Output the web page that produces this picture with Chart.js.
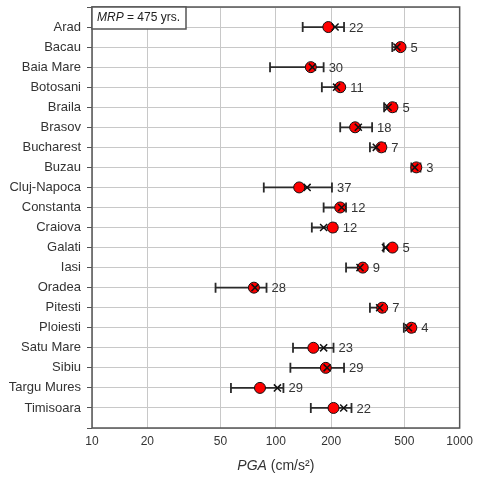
<!DOCTYPE html>
<html>
<head>
<meta charset="utf-8">
<script src="https://cdn.jsdelivr.net/npm/chart.js@4"></script>
<style>
  body { margin: 0; background: #fff; }
  #wrap { width: 479px; height: 480px; }
</style>
</head>
<body>
<div id="wrap"><canvas id="chart" width="479" height="480"></canvas></div>
<script>
const cities = ['Arad', 'Bacau', 'Baia Mare', 'Botosani', 'Braila', 'Brasov', 'Bucharest', 'Buzau',
    'Cluj-Napoca', 'Constanta', 'Craiova', 'Galati', 'Iasi', 'Oradea', 'Pitesti', 'Ploiesti',
    'Satu Mare', 'Sibiu', 'Targu Mures', 'Timisoara'];
// red circles
const medians = [193, 477, 155, 224, 431, 270, 375, 581, 134, 224, 204, 431, 297, 76, 379, 546, 160, 187, 82, 206];
// crosses
const means = [210, 456, 158, 214, 408, 281, 352, 570, 148, 228, 182, 395, 287, 77, 367, 527, 182, 190, 102, 234];
// error bar ends
const lows = [140, 430, 93, 178, 388, 224, 325, 546, 86, 182, 157, 386, 241, 47, 325, 497, 124, 120, 57, 155];
const highs = [235, 490, 182, 232, 450, 334, 393, 612, 202, 241, 212, 440, 305, 89, 393, 570, 206, 235, 110, 258];
const counts = [22, 5, 30, 11, 5, 18, 7, 3, 37, 12, 12, 5, 9, 28, 7, 4, 23, 29, 29, 22];
const xTicks = [10, 20, 50, 100, 200, 500, 1000];

const TEXT_COLOR = '#333'
const FONT = 'Liberation Sans, Arial, sans-serif'

const errorBars = {
    id: 'errorBars',
    beforeDatasetsDraw(chart) {
        const ctx = chart.ctx;
        const x = chart.scales.x, y = chart.scales.y;
        ctx.save();
        ctx.strokeStyle = '#2a2a2a';
        ctx.lineWidth = 1.8;
        lows.forEach((lo, i) => {
            const py = y.getPixelForValue(i);
            const x0 = x.getPixelForValue(lo), x1 = x.getPixelForValue(highs[i]);
            ctx.beginPath();
            ctx.moveTo(x0, py); ctx.lineTo(x1, py);
            ctx.moveTo(x0, py - 5); ctx.lineTo(x0, py + 5);
            ctx.moveTo(x1, py - 5); ctx.lineTo(x1, py + 5);
            ctx.stroke();
        });
        ctx.restore();
    },
    afterDatasetsDraw(chart) {
        const ctx = chart.ctx;
        const x = chart.scales.x, y = chart.scales.y;
        ctx.save();
        ctx.fillStyle = TEXT_COLOR;
        ctx.font = '13px ' + FONT;
        ctx.textBaseline = 'middle';
        counts.forEach((n, i) => {
            const px = Math.max(x.getPixelForValue(highs[i]), x.getPixelForValue(medians[i]) + 5) + 5;
            ctx.fillText(String(n), px, y.getPixelForValue(i) + 1);
        });
        ctx.restore();
    },
    afterDraw(chart) {
        const ctx = chart.ctx;
        const a = chart.chartArea;
        ctx.save();
        // frame
        ctx.strokeStyle = '#555';
        ctx.lineWidth = 1.5;
        ctx.strokeRect(a.left, a.top, a.right - a.left, a.bottom - a.top);
        // MRP box
        ctx.fillStyle = '#fff';
        ctx.fillRect(a.left, a.top, 94, 22);
        ctx.strokeRect(a.left, a.top, 94, 22);
        ctx.fillStyle = '#222';
        ctx.textBaseline = 'middle';
        ctx.font = 'italic 12px ' + FONT;
        let tx = a.left + 5;
        ctx.fillText('MRP', tx, a.top + 11);
        tx += ctx.measureText('MRP').width;
        ctx.font = '12px ' + FONT;
        ctx.fillText(' = 475 yrs.', tx, a.top + 11);
        // axis title
        ctx.fillStyle = TEXT_COLOR;
        ctx.font = 'italic 14px ' + FONT;
        const w1 = ctx.measureText('PGA').width;
        ctx.font = '14px ' + FONT;
        const w2 = ctx.measureText(' (cm/s²)').width;
        let sx = (a.left + a.right) / 2 - (w1 + w2) / 2;
        ctx.font = 'italic 14px ' + FONT;
        ctx.fillText('PGA', sx, 466);
        ctx.font = '14px ' + FONT;
        ctx.fillText(' (cm/s²)', sx + w1, 466);
        ctx.restore();
    }
};

const ctx = document.getElementById('chart').getContext('2d');
new Chart(ctx, {
    type: 'scatter',
    data: {
        datasets: [{
            label: 'mean',
            data: means.map((v, i) => ({x: v, y: i})),
            pointStyle: 'crossRot',
            pointRadius: 5,
            borderColor: '#111',
            borderWidth: 1.5,
            order: 0
        }, {
            label: 'median',
            data: medians.map((v, i) => ({x: v, y: i})),
            pointStyle: 'circle',
            pointRadius: 5.5,
            backgroundColor: '#ff0000',
            borderColor: '#111',
            borderWidth: 1,
            order: 1
        }]
    },
    options: {
        responsive: false,
        animation: false,
        layout: { padding: { top: 7, right: 17, left: 0, bottom: 0 } },
        scales: {
            x: {
                type: 'logarithmic',
                min: 10,
                max: 1000,
                afterBuildTicks: (scale) => { scale.ticks = xTicks.map(v => ({value: v})) },
                afterFit: (scale) => { scale.height = 52 },
                ticks: {
                    color: TEXT_COLOR,
                    font: { family: FONT, size: 12 },
                    maxRotation: 0,
                    padding: 6,
                    callback: (v) => String(v)
                },
                grid: { color: '#c8c8c8', lineWidth: 1, drawTicks: false },
                border: { display: false }
            },
            y: {
                type: 'linear',
                reverse: true,
                min: -1,
                max: 20,
                afterBuildTicks: (scale) => {
                    const t = [];
                    for (let i = -1; i <= 20; i++) t.push({value: i});
                    scale.ticks = t;
                },
                afterFit: (scale) => {
                    scale.width = 92;
                    scale.paddingTop = 0;
                    scale.paddingBottom = 0;
                },
                ticks: {
                    color: TEXT_COLOR,
                    font: { family: FONT, size: 13 },
                    padding: 6,
                    autoSkip: false,
                    callback: (v) => cities[v] || ''
                },
                grid: { color: '#c8c8c8', lineWidth: 1, tickLength: 5, tickColor: '#555' },
                border: { display: false }
            }
        },
        plugins: {
            legend: { display: false },
            tooltip: { enabled: false }
        }
    },
    plugins: [errorBars]
});
</script>
</body>
</html>
